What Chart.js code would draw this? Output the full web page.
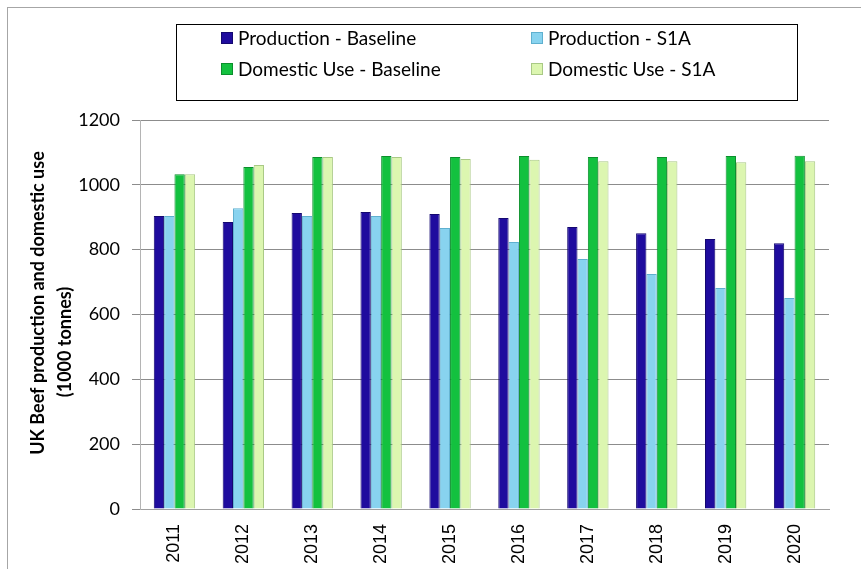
<!DOCTYPE html>
<html>
<head>
<meta charset="utf-8">
<script src="https://cdn.jsdelivr.net/npm/chart.js@4.4.0/dist/chart.umd.min.js"></script>
<style>
  html, body { margin: 0; padding: 0; background: #fff; }
</style>
</head>
<body>
<canvas id="beefChart" width="861" height="569"></canvas>
<script>
// UK beef, thousand tonnes
const years = ['2011', '2012', '2013', '2014', '2015', '2016', '2017', '2018', '2019', '2020'];
const productionBaseline = [904, 885, 913, 916, 910, 898, 870, 851, 833, 820];
const productionS1A = [904, 928, 904, 904, 867, 824, 771, 725, 682, 651];
const domesticBaseline = [1033, 1055, 1086, 1089, 1086, 1089, 1086, 1086, 1089, 1090];
const domesticS1A = [1033, 1061, 1086, 1086, 1080, 1077, 1073, 1073, 1070, 1073];
const yTicks = [0, 200, 400, 600, 800, 1000, 1200];
const yTitle = ['UK Beef production and domestic use', '(1000 tonnes)'];

const seriesNames = ['Production - Baseline', 'Production - S1A', 'Domestic Use - Baseline', 'Domestic Use - S1A'];
const fills = ['#1f0c9e', '#88d3ef', '#13c13f', '#dcf6b0'];
const edges = ['#140870', '#5fb0cf', '#0b8f2c', '#a9c985'];

// frame, two-column legend box and the rotated axis title
const decorations = {
  id: 'decorations',
  beforeDraw(chart) {
    const ctx = chart.ctx;
    ctx.save();
    ctx.strokeStyle = '#a6a6a6';
    ctx.lineWidth = 1;
    ctx.strokeRect(7.5, 7.5, 900, 600);
    ctx.restore();
  },
  afterDraw(chart) {
    const ctx = chart.ctx;
    ctx.save();
    // legend
    ctx.strokeStyle = '#000';
    ctx.lineWidth = 1;
    ctx.strokeRect(176.5, 24.5, 621, 76);
    const colX = [221, 531];
    const rowY = [38, 69];
    ctx.font = '19px Lato';
    ctx.textBaseline = 'middle';
    ctx.fillStyle = '#000';
    chart.data.datasets.forEach((ds, i) => {
      const x = colX[i % 2];
      const y = rowY[Math.floor(i / 2)];
      ctx.fillStyle = ds.backgroundColor;
      ctx.fillRect(x, y - 6, 12, 12);
      ctx.strokeStyle = ds.borderColor;
      ctx.strokeRect(x + 0.5, y - 5.5, 11, 11);
      ctx.fillStyle = '#000';
      ctx.fillText(ds.label, x + 17, y + 1);
    });
    // y axis title
    ctx.font = 'bold 18px Lato';
    ctx.textAlign = 'center';
    ctx.fillStyle = '#000';
    const spots = [[38, 303], [65, 342]];
    yTitle.forEach((line, i) => {
      ctx.save();
      ctx.translate(spots[i][0], spots[i][1]);
      ctx.rotate(-Math.PI / 2);
      ctx.fillText(line, 0, 0);
      ctx.restore();
    });
    ctx.restore();
  }
};

const seriesData = [productionBaseline, productionS1A, domesticBaseline, domesticS1A];

new Chart(document.getElementById('beefChart'), {
  type: 'bar',
  data: {
    labels: years,
    datasets: seriesData.map((values, i) => ({
      label: seriesNames[i],
      data: values,
      backgroundColor: fills[i],
      borderColor: edges[i],
      borderWidth: 1,
      categoryPercentage: 0.6,
      barPercentage: 1.0
    }))
  },
  options: {
    responsive: false,
    animation: false,
    layout: { padding: { top: 120, right: 32, left: 0, bottom: 0 } },
    plugins: {
      legend: { display: false },
      tooltip: { enabled: false }
    },
    scales: {
      x: {
        grid: { display: false, drawTicks: false },
        border: { display: true, color: '#a0a0a0' },
        ticks: {
          minRotation: 90,
          maxRotation: 90,
          padding: 15,
          color: '#000',
          font: { family: 'Liberation Sans', size: 18 }
        },
        afterFit(scale) { scale.height = 60; }
      },
      y: {
        min: 0,
        max: 1200,
        afterBuildTicks(scale) { scale.ticks = yTicks.map(v => ({ value: v })); },
        grid: { color: '#8c8c8c', tickLength: 8 },
        border: { display: true, color: '#b4b4b4' },
        ticks: {
          padding: 12,
          color: '#000',
          font: { family: 'Lato', size: 18 },
          callback: v => String(v)
        },
        afterFit(scale) { scale.width = 140; }
      }
    }
  },
  plugins: [decorations]
});
</script>
</body>
</html>
